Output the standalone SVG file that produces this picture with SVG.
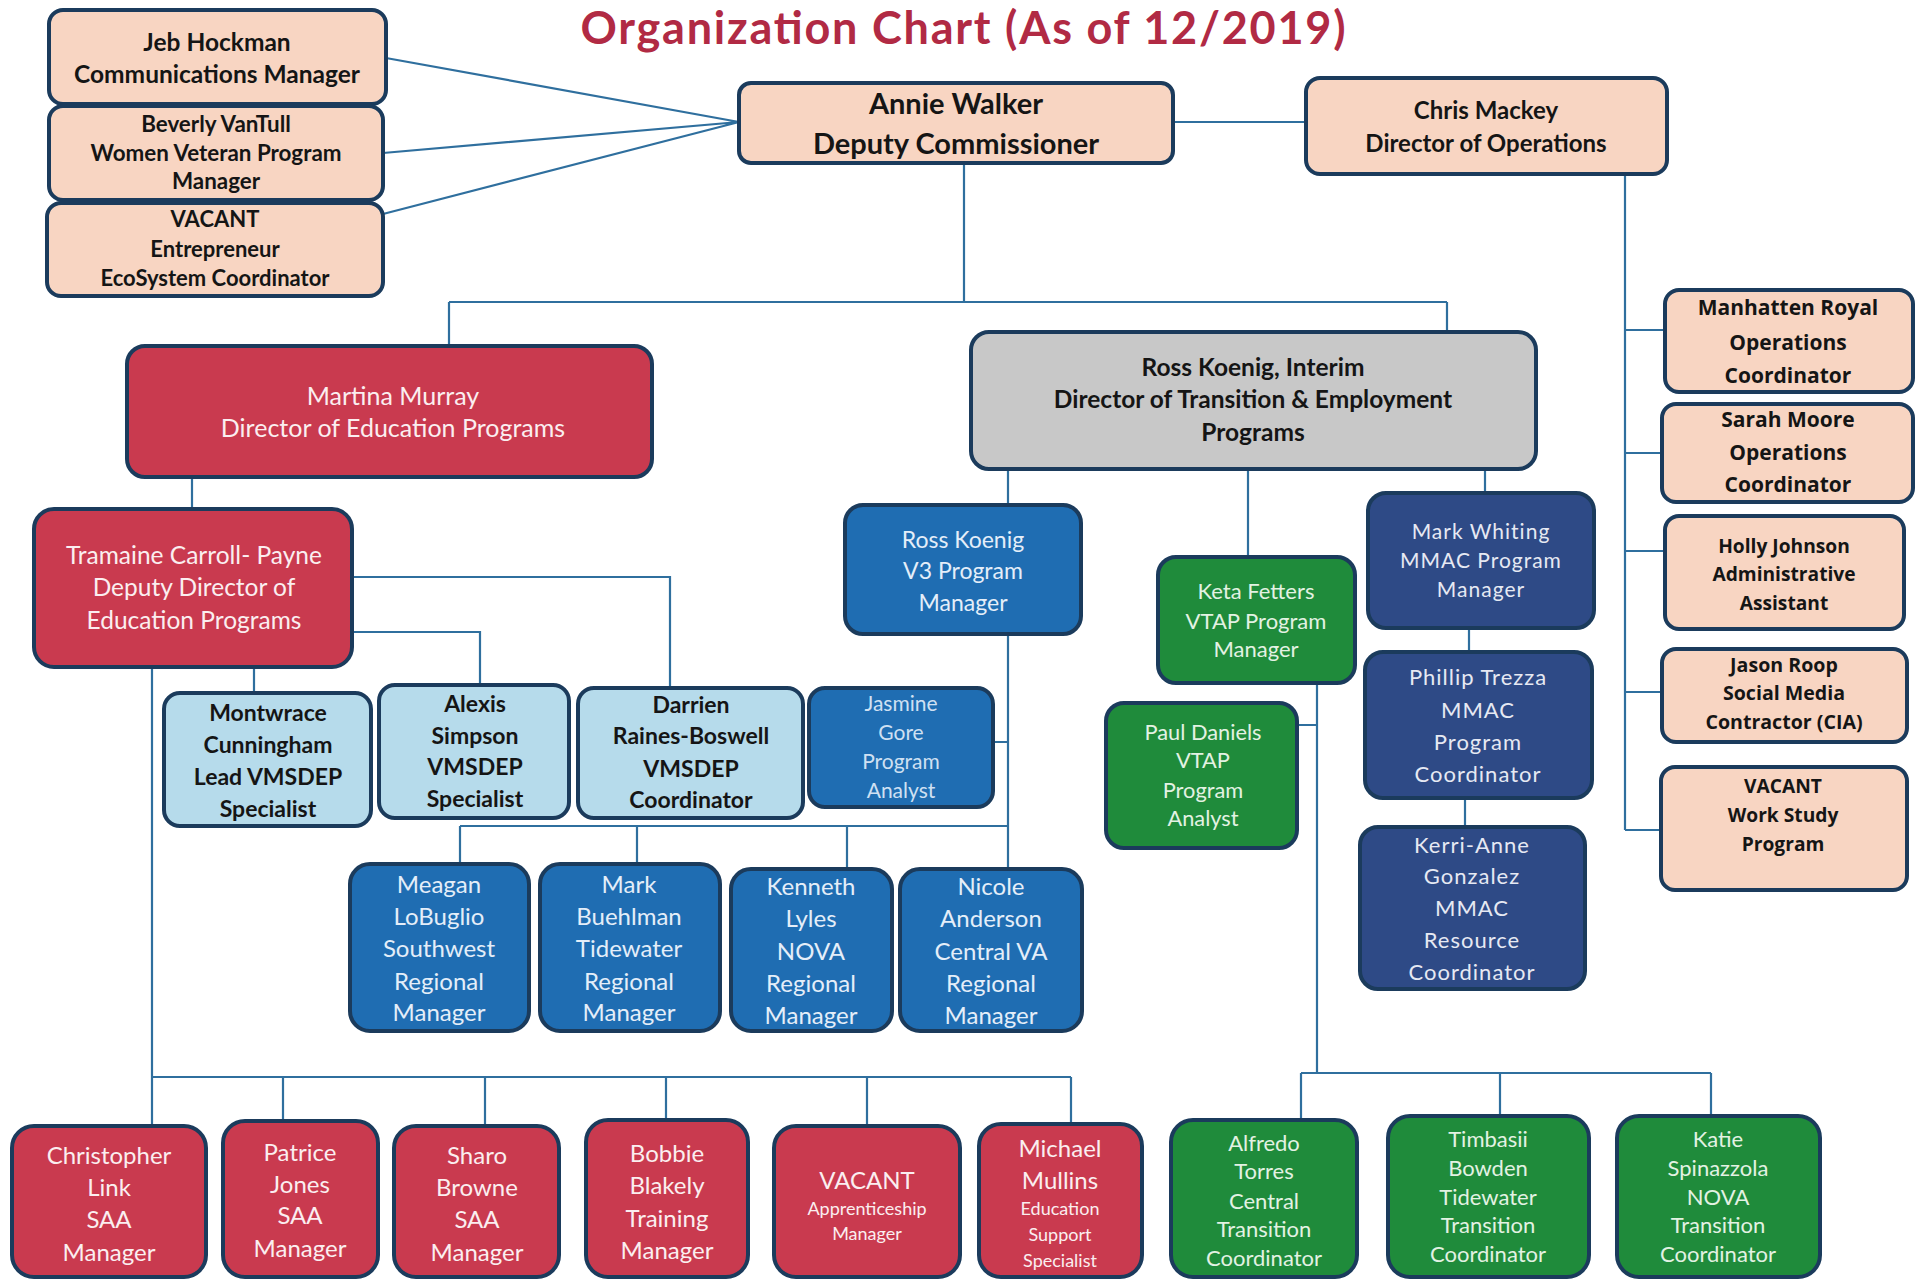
<svg xmlns="http://www.w3.org/2000/svg" width="1919" height="1279" viewBox="0 0 1919 1279">
<style>
.b{stroke:#1b3b5c;stroke-width:4}
.peach{fill:#f8d5c2}
.red{fill:#c93a4f}
.grey{fill:#c8c8c8}
.lblue{fill:#b6dbeb}
.blue{fill:#1f6db2}
.navy{fill:#2e4a86}
.green{fill:#1f8b3b}
text{font-family:Lato,"Liberation Sans",sans-serif;text-anchor:middle}
.dk{fill:#151515;font-weight:bold}
.wr{fill:#fbeef0}
.wb{fill:#e4eef9}
.wn{fill:#e6e9f3;letter-spacing:1px}
.wg{fill:#e3f2e3}
.ops{font-family:"Open Sans","DejaVu Sans",sans-serif;font-weight:bold;fill:#151515}
.conn path{stroke:#2f6f9e;stroke-width:2.2;fill:none}
</style>
<rect width="1919" height="1279" fill="#ffffff"/>
<text x="963" y="44" font-size="45" font-weight="bold" fill="#b12a44" textLength="765">Organization Chart (As of 12/2019)</text>

<g class="conn" id="connectors">
<path d="M386 58 L739 122 M383 153 L739 122 M383 214 L739 122"/>
<path d="M1173 122 H1306"/>
<path d="M964 163 V302 M449 302 H1447 M449 302 V346 M1447 302 V332"/>
<path d="M1625 174 V830 M1625 330 H1665 M1625 453 H1662 M1625 551 H1665 M1625 692 H1662 M1625 830 H1661"/>
<path d="M192 477 V509"/>
<path d="M352 577 H670 V688 M352 632 H480 V685"/>
<path d="M254 667 V693 M152 667 V1077"/>
<path d="M152 1077 H1071 M152 1077 V1126 M283 1077 V1121 M485 1077 V1126 M666 1077 V1120 M867 1077 V1126 M1071 1077 V1124"/>
<path d="M460 826 H1008 M460 826 V864 M637 826 V864 M847 826 V869"/>
<path d="M1008 469 V505 M1008 634 V869 M993 742 H1008"/>
<path d="M1248 469 V557"/>
<path d="M1485 469 V493 M1469 628 V652 M1465 798 V827"/>
<path d="M1317 683 V1073 M1297 725 H1317 M1301 1073 H1711 M1301 1073 V1120 M1500 1073 V1116 M1711 1073 V1116"/>
</g>

<g id="jeb"><rect class="b peach" x="49" y="10" width="337" height="94" rx="14"/>
<text class="dk" font-size="24.5" x="217"><tspan x="217" y="51">Jeb Hockman</tspan><tspan x="217" y="83">Communications Manager</tspan></text></g>
<g id="beverly"><rect class="b peach" x="49" y="106" width="334" height="94" rx="14"/>
<text class="dk" font-size="22.4" x="216"><tspan x="216" y="132">Beverly VanTull</tspan><tspan x="216" y="161">Women Veteran Program</tspan><tspan x="216" y="189">Manager</tspan></text></g>
<g id="vacant-eco"><rect class="b peach" x="47" y="203" width="336" height="93" rx="14"/>
<text class="dk" font-size="22" x="215"><tspan x="215" y="227">VACANT</tspan><tspan x="215" y="257">Entrepreneur</tspan><tspan x="215" y="286">EcoSystem Coordinator</tspan></text></g>
<g id="annie"><rect class="b peach" x="739" y="83" width="434" height="80" rx="12"/>
<text class="dk" font-size="29" x="956"><tspan x="956" y="114">Annie Walker</tspan><tspan x="956" y="154">Deputy Commissioner</tspan></text></g>
<g id="chris"><rect class="b peach" x="1306" y="78" width="361" height="96" rx="14"/>
<text class="dk" font-size="24" x="1486"><tspan x="1486" y="119">Chris Mackey</tspan><tspan x="1486" y="152">Director of Operations</tspan></text></g>

<g id="martina"><rect class="b red" x="127" y="346" width="525" height="131" rx="18"/>
<text class="wr" font-size="25" x="393"><tspan x="393" y="405">Martina Murray</tspan><tspan x="393" y="437">Director of Education Programs</tspan></text></g>
<g id="ross-interim"><rect class="b grey" x="971" y="332" width="565" height="137" rx="18"/>
<text class="dk" font-size="24.5" x="1253"><tspan x="1253" y="376">Ross Koenig, Interim</tspan><tspan x="1253" y="408">Director of Transition &amp; Employment</tspan><tspan x="1253" y="441">Programs</tspan></text></g>

<g id="manhatten"><rect class="b peach" x="1665" y="290" width="248" height="102" rx="14"/>
<text class="ops" font-size="21" x="1788"><tspan x="1788" y="315">Manhatten Royal</tspan><tspan x="1788" y="350">Operations</tspan><tspan x="1788" y="383">Coordinator</tspan></text></g>
<g id="sarah"><rect class="b peach" x="1662" y="404" width="251" height="98" rx="14"/>
<text class="ops" font-size="21" x="1788"><tspan x="1788" y="427">Sarah Moore</tspan><tspan x="1788" y="460">Operations</tspan><tspan x="1788" y="492">Coordinator</tspan></text></g>
<g id="holly"><rect class="b peach" x="1665" y="516" width="239" height="113" rx="14"/>
<text class="ops" font-size="19.2" x="1784"><tspan x="1784" y="553">Holly Johnson</tspan><tspan x="1784" y="581">Administrative</tspan><tspan x="1784" y="610">Assistant</tspan></text></g>
<g id="jason"><rect class="b peach" x="1662" y="649" width="245" height="93" rx="14"/>
<text class="ops" font-size="19.6" x="1784"><tspan x="1784" y="672">Jason Roop</tspan><tspan x="1784" y="700">Social Media</tspan><tspan x="1784" y="729">Contractor (CIA)</tspan></text></g>
<g id="vacant-ws"><rect class="b peach" x="1661" y="767" width="246" height="123" rx="14"/>
<text class="ops" font-size="19.2" x="1783"><tspan x="1783" y="793">VACANT</tspan><tspan x="1783" y="822">Work Study</tspan><tspan x="1783" y="851">Program</tspan></text></g>

<g id="tramaine"><rect class="b red" x="34" y="509" width="318" height="158" rx="20"/>
<text class="wr" font-size="24.5" x="194"><tspan x="194" y="564">Tramaine Carroll- Payne</tspan><tspan x="194" y="596">Deputy Director of</tspan><tspan x="194" y="629">Education Programs</tspan></text></g>
<g id="ross-v3"><rect class="b blue" x="845" y="505" width="236" height="129" rx="18"/>
<text class="wb" font-size="23" x="963"><tspan x="963" y="548">Ross Koenig</tspan><tspan x="963" y="579">V3 Program</tspan><tspan x="963" y="611">Manager</tspan></text></g>
<g id="keta"><rect class="b green" x="1158" y="557" width="197" height="126" rx="18"/>
<text class="wg" font-size="22" x="1256"><tspan x="1256" y="599">Keta Fetters</tspan><tspan x="1256" y="629">VTAP Program</tspan><tspan x="1256" y="657">Manager</tspan></text></g>
<g id="mark-whiting"><rect class="b navy" x="1368" y="493" width="226" height="135" rx="18"/>
<text class="wn" font-size="21" x="1481"><tspan x="1481" y="539">Mark Whiting</tspan><tspan x="1481" y="568">MMAC  Program</tspan><tspan x="1481" y="597">Manager</tspan></text></g>

<g id="montwrace"><rect class="b lblue" x="164" y="693" width="207" height="133" rx="16"/>
<text class="dk" font-size="23" x="268"><tspan x="268" y="721">Montwrace</tspan><tspan x="268" y="753">Cunningham</tspan><tspan x="268" y="785">Lead VMSDEP</tspan><tspan x="268" y="817">Specialist</tspan></text></g>
<g id="alexis"><rect class="b lblue" x="379" y="685" width="190" height="133" rx="16"/>
<text class="dk" font-size="23" x="475"><tspan x="475" y="712">Alexis</tspan><tspan x="475" y="744">Simpson</tspan><tspan x="475" y="775">VMSDEP</tspan><tspan x="475" y="807">Specialist</tspan></text></g>
<g id="darrien"><rect class="b lblue" x="578" y="688" width="225" height="130" rx="16"/>
<text class="dk" font-size="23" x="691"><tspan x="691" y="713">Darrien</tspan><tspan x="691" y="744">Raines-Boswell</tspan><tspan x="691" y="777">VMSDEP</tspan><tspan x="691" y="808">Coordinator</tspan></text></g>
<g id="jasmine"><rect class="b blue" x="809" y="688" width="184" height="119" rx="16"/>
<text fill="#cfe0f2" font-size="21" x="901"><tspan x="901" y="711">Jasmine</tspan><tspan x="901" y="740">Gore</tspan><tspan x="901" y="769">Program</tspan><tspan x="901" y="798">Analyst</tspan></text></g>
<g id="paul"><rect class="b green" x="1106" y="703" width="191" height="145" rx="18"/>
<text class="wg" font-size="21.8" x="1203"><tspan x="1203" y="740">Paul Daniels</tspan><tspan x="1203" y="768">VTAP</tspan><tspan x="1203" y="798">Program</tspan><tspan x="1203" y="826">Analyst</tspan></text></g>
<g id="phillip"><rect class="b navy" x="1365" y="652" width="227" height="146" rx="18"/>
<text class="wn" font-size="22" x="1478"><tspan x="1478" y="685">Phillip Trezza</tspan><tspan x="1478" y="718">MMAC</tspan><tspan x="1478" y="750">Program</tspan><tspan x="1478" y="782">Coordinator</tspan></text></g>
<g id="kerri"><rect class="b navy" x="1360" y="827" width="225" height="162" rx="18"/>
<text class="wn" font-size="22" x="1472"><tspan x="1472" y="853">Kerri-Anne</tspan><tspan x="1472" y="884">Gonzalez</tspan><tspan x="1472" y="916">MMAC</tspan><tspan x="1472" y="948">Resource</tspan><tspan x="1472" y="980">Coordinator</tspan></text></g>

<g id="meagan"><rect class="b blue" x="350" y="864" width="179" height="167" rx="20"/>
<text class="wb" font-size="24" x="439"><tspan x="439" y="893">Meagan</tspan><tspan x="439" y="925">LoBuglio</tspan><tspan x="439" y="957">Southwest</tspan><tspan x="439" y="990">Regional</tspan><tspan x="439" y="1021">Manager</tspan></text></g>
<g id="mark-buehlman"><rect class="b blue" x="540" y="864" width="180" height="167" rx="20"/>
<text class="wb" font-size="24" x="629"><tspan x="629" y="893">Mark</tspan><tspan x="629" y="925">Buehlman</tspan><tspan x="629" y="957">Tidewater</tspan><tspan x="629" y="990">Regional</tspan><tspan x="629" y="1021">Manager</tspan></text></g>
<g id="kenneth"><rect class="b blue" x="731" y="869" width="161" height="162" rx="20"/>
<text class="wb" font-size="24" x="811"><tspan x="811" y="895">Kenneth</tspan><tspan x="811" y="927">Lyles</tspan><tspan x="811" y="960">NOVA</tspan><tspan x="811" y="992">Regional</tspan><tspan x="811" y="1024">Manager</tspan></text></g>
<g id="nicole"><rect class="b blue" x="900" y="869" width="182" height="162" rx="20"/>
<text class="wb" font-size="24" x="991"><tspan x="991" y="895">Nicole</tspan><tspan x="991" y="927">Anderson</tspan><tspan x="991" y="960">Central VA</tspan><tspan x="991" y="992">Regional</tspan><tspan x="991" y="1024">Manager</tspan></text></g>

<g id="christopher"><rect class="b red" x="12" y="1126" width="194" height="151" rx="22"/>
<text class="wr" font-size="24" x="109"><tspan x="109" y="1164">Christopher</tspan><tspan x="109" y="1196">Link</tspan><tspan x="109" y="1228">SAA</tspan><tspan x="109" y="1261">Manager</tspan></text></g>
<g id="patrice"><rect class="b red" x="223" y="1121" width="155" height="156" rx="22"/>
<text class="wr" font-size="24" x="300"><tspan x="300" y="1161">Patrice</tspan><tspan x="300" y="1193">Jones</tspan><tspan x="300" y="1224">SAA</tspan><tspan x="300" y="1257">Manager</tspan></text></g>
<g id="sharo"><rect class="b red" x="394" y="1126" width="165" height="151" rx="22"/>
<text class="wr" font-size="24" x="477"><tspan x="477" y="1164">Sharo</tspan><tspan x="477" y="1196">Browne</tspan><tspan x="477" y="1228">SAA</tspan><tspan x="477" y="1261">Manager</tspan></text></g>
<g id="bobbie"><rect class="b red" x="586" y="1120" width="162" height="157" rx="22"/>
<text class="wr" font-size="24" x="667"><tspan x="667" y="1162">Bobbie</tspan><tspan x="667" y="1194">Blakely</tspan><tspan x="667" y="1227">Training</tspan><tspan x="667" y="1259">Manager</tspan></text></g>
<g id="vacant-app"><rect class="b red" x="774" y="1126" width="186" height="151" rx="22"/>
<text class="wr" x="867"><tspan x="867" y="1189" font-size="24">VACANT</tspan><tspan x="867" y="1215" font-size="18">Apprenticeship</tspan><tspan x="867" y="1240" font-size="18">Manager</tspan></text></g>
<g id="michael"><rect class="b red" x="979" y="1124" width="163" height="153" rx="22"/>
<text class="wr" x="1060"><tspan x="1060" y="1157" font-size="24">Michael</tspan><tspan x="1060" y="1189" font-size="24">Mullins</tspan><tspan x="1060" y="1215" font-size="18">Education</tspan><tspan x="1060" y="1241" font-size="18">Support</tspan><tspan x="1060" y="1267" font-size="18">Specialist</tspan></text></g>
<g id="alfredo"><rect class="b green" x="1171" y="1120" width="186" height="157" rx="22"/>
<text class="wg" font-size="22" x="1264"><tspan x="1264" y="1151">Alfredo</tspan><tspan x="1264" y="1179">Torres</tspan><tspan x="1264" y="1209">Central</tspan><tspan x="1264" y="1237">Transition</tspan><tspan x="1264" y="1266">Coordinator</tspan></text></g>
<g id="timbasii"><rect class="b green" x="1388" y="1116" width="201" height="161" rx="22"/>
<text class="wg" font-size="22" x="1488"><tspan x="1488" y="1147">Timbasii</tspan><tspan x="1488" y="1176">Bowden</tspan><tspan x="1488" y="1205">Tidewater</tspan><tspan x="1488" y="1233">Transition</tspan><tspan x="1488" y="1262">Coordinator</tspan></text></g>
<g id="katie"><rect class="b green" x="1617" y="1116" width="203" height="161" rx="22"/>
<text class="wg" font-size="22" x="1718"><tspan x="1718" y="1147">Katie</tspan><tspan x="1718" y="1176">Spinazzola</tspan><tspan x="1718" y="1205">NOVA</tspan><tspan x="1718" y="1233">Transition</tspan><tspan x="1718" y="1262">Coordinator</tspan></text></g>
</svg>
